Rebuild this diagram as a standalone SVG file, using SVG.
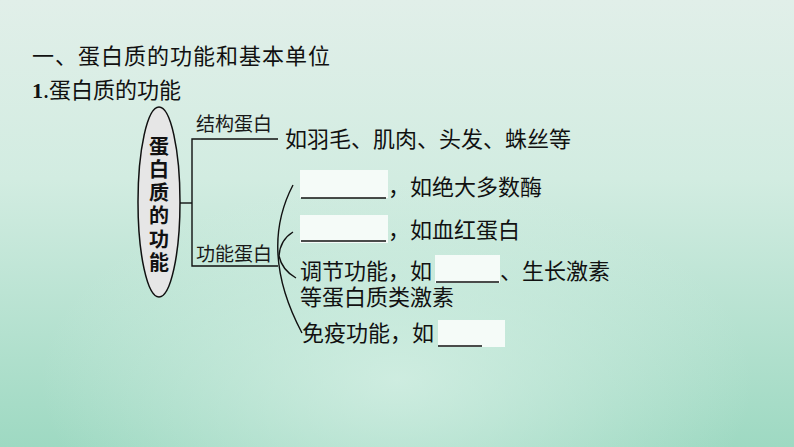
<svg xmlns="http://www.w3.org/2000/svg" width="794" height="447" viewBox="0 0 794 447">
<defs>
<linearGradient id="bg" x1="0" y1="0" x2="0" y2="1">
<stop offset="0" stop-color="#e1efe9"/>
<stop offset="0.4" stop-color="#d2ece1"/>
<stop offset="1" stop-color="#9ed9c2"/>
</linearGradient>
<radialGradient id="hl" cx="0.5" cy="0.85" r="0.45">
<stop offset="0" stop-color="#d9f1e7" stop-opacity="0.75"/>
<stop offset="1" stop-color="#d9f1e7" stop-opacity="0"/>
</radialGradient>
<style>
.h{font-family:"Noto Sans CJK SC","Liberation Sans",sans-serif;fill:#111;}
.v{font-family:"Noto Sans CJK SC","Liberation Sans",sans-serif;fill:#111;font-size:20px;font-weight:bold;writing-mode:vertical-rl;letter-spacing:3.3px;}
.t{font-family:"Noto Sans CJK SC","Liberation Sans",sans-serif;fill:#111;font-size:22px;}
.lab{font-family:"Noto Sans CJK SC","Liberation Sans",sans-serif;fill:#1a1a1a;font-size:19px;}
.ln{fill:none;stroke:#111;stroke-width:1.4;}
.blank{fill:#f5fbf8;}
.ul{stroke:#111;stroke-width:1.4;}
</style>
</defs>
<rect width="794" height="447" fill="url(#bg)"/>
<rect width="794" height="447" fill="url(#hl)"/>
<g id="title">
<text class="h" x="32" y="64" font-size="22" letter-spacing="1">一、蛋白质的功能和基本单位</text>
<text class="h" x="32" y="98" font-size="22"><tspan font-weight="bold" font-family="Liberation Serif, serif">1</tspan>.蛋白质的功能</text>
</g>
<g id="connectors">
<line class="ln" x1="180" y1="203" x2="192" y2="203"/>
<polyline class="ln" points="278,139 192,139 192,266 278,266"/>
<path class="ln" d="M293,185 Q258.5,251 302,333"/>
<path class="ln" d="M293,232 Q280,240 279,256"/>
<path class="ln" d="M279,256 Q282,270 296,278"/>
</g>
<g id="root">
<ellipse cx="159" cy="202" rx="21" ry="95" fill="#e6e6e6" stroke="#111" stroke-width="1.5"/>
<text class="v" x="159" y="136">蛋白质的功能</text>
</g>
<g id="structural">
<text class="lab" x="196" y="131">结构蛋白</text>
<text class="t" x="285" y="147">如羽毛、肌肉、头发、蛛丝等</text>
</g>
<g id="functional">
<text class="lab" x="196" y="261">功能蛋白</text>
</g>
<g id="f1">
<rect class="blank" x="300" y="170" width="88" height="28"/>
<line class="ul" x1="301" y1="198" x2="386" y2="198"/>
<text class="t" x="388" y="195">，如绝大多数酶</text>
</g>
<g id="f2">
<rect class="blank" x="300" y="215" width="88" height="28"/>
<line class="ul" x1="301" y1="241" x2="386" y2="241"/>
<text class="t" x="388" y="238">，如血红蛋白</text>
</g>
<g id="f3">
<rect class="blank" x="435" y="255" width="65" height="28"/>
<line class="ul" x1="436" y1="282" x2="499" y2="282"/>
<text class="t"><tspan x="300" y="279">调节功能，如</tspan><tspan x="500" y="279">、生长激素</tspan><tspan x="300" y="305">等蛋白质类激素</tspan></text>
</g>
<g id="f4">
<text class="t" x="302" y="341">免疫功能，如</text>
<rect class="blank" x="438" y="320" width="67" height="27"/>
<line class="ul" x1="438" y1="346" x2="482" y2="346"/>
</g>
</svg>
